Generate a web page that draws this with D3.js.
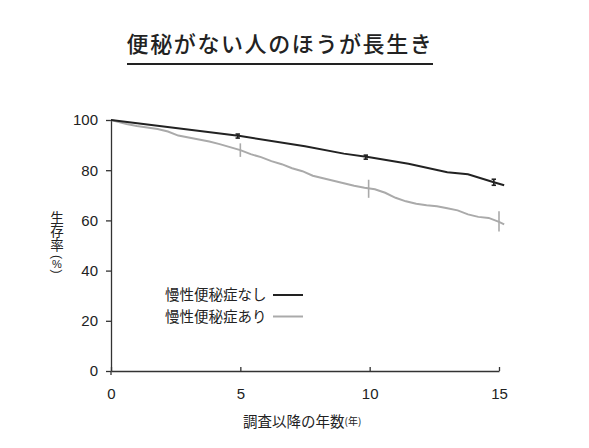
<!DOCTYPE html>
<html>
<head>
<meta charset="utf-8">
<script src="https://cdn.jsdelivr.net/npm/d3@7"></script>
<style>
  body { margin: 0; background: #fff; }
  svg { display: block; }
  .num { font-family: "Liberation Sans", Arial, sans-serif; font-size: 15px; fill: #222; }
  .jp { font-family: "Noto Sans CJK JP", sans-serif; fill: #222; }
</style>
</head>
<body>
<svg id="chart" width="589" height="448"></svg>
<script>
// 慢性便秘症なし (black)
const noneYears = [0, 2.5, 5, 7.5, 9, 10, 11.5, 13, 13.8, 14.8, 15.2];
const noneRate  = [100, 96.8, 93.6, 89.5, 86.6, 85.2, 82.6, 79.2, 78.4, 75.2, 74.0];

// 慢性便秘症あり (gray)
const withYears = [0, 0.3, 0.6, 1.0, 1.4, 1.8, 2.2, 2.6, 3.0, 3.4, 3.8, 4.2, 4.6, 5.0, 5.4, 5.8, 6.2, 6.6, 7.0, 7.4,
                   7.8, 8.2, 8.6, 9.0, 9.4, 9.8, 10.2, 10.6, 11.0, 11.4, 11.8, 12.2, 12.6, 13.0, 13.4, 13.8, 14.2, 14.6, 15.0, 15.2];
const withRate  = [100, 99.2, 98.4, 97.6, 97.0, 96.4, 95.4, 93.8, 93.0, 92.2, 91.4, 90.4, 89.2, 88.0, 86.4, 85.2, 83.6, 82.4, 80.8, 79.6,
                   77.8, 76.8, 75.8, 74.8, 73.8, 73.0, 72.4, 71.0, 69.0, 67.6, 66.6, 66.0, 65.6, 64.8, 64.0, 62.4, 61.4, 61.0, 59.4, 58.4];

// error bars: [year, value, half-width]
const noneErr = [[4.9, 93.6, 0.8], [9.85, 85.2, 0.8], [14.8, 75.2, 1.2]];
const withErr = [[5.0, 88.0, 2.7], [9.96, 72.6, 3.6], [15.0, 59.6, 4.0]];

const yTicks = [0, 20, 40, 60, 80, 100];
const xTicks = [0, 5, 10, 15];

const svg = d3.select('#chart');
const x = d3.scaleLinear().domain([0, 15]).range([111, 499]);
const y = d3.scaleLinear().domain([0, 100]).range([371, 120]);

// title
svg.append('text')
    .attr('class', 'jp')
    .attr('x', 280).attr('y', 52)
    .attr('text-anchor', 'middle')
    .style('font-size', '22px')
    .style('font-weight', 500)
    .style('letter-spacing', '1.6px')
    .text('便秘がない人のほうが長生き');
svg.append('line')
    .attr('x1', 127).attr('x2', 433).attr('y1', 64).attr('y2', 64)
    .attr('stroke', '#222').attr('stroke-width', 2);

// axes
let yAxis = svg.append('g')
    .attr('transform', 'translate(' + x(0) + ',0)')
    .call(d3.axisLeft(y).tickValues(yTicks).tickSize(5).tickSizeOuter(0).tickPadding(8));
let xAxis = svg.append('g')
    .attr('transform', 'translate(0,' + y(0) + ')')
    .call(d3.axisBottom(x).tickValues(xTicks).tickSize(-4).tickSizeOuter(0).tickPadding(17));
[yAxis, xAxis].forEach(function (a) {
    a.selectAll('path, line').attr('stroke', '#333').attr('stroke-width', 1.3);
    a.selectAll('text').attr('class', 'num').attr('fill', null);
});
// y axis runs a bit below the x axis
svg.append('line')
    .attr('x1', x(0)).attr('x2', x(0)).attr('y1', y(0)).attr('y2', y(0) + 4)
    .attr('stroke', '#333').attr('stroke-width', 1.3);

// lines
const line = d3.line().x(d => x(d[0])).y(d => y(d[1]));

svg.append('path')
    .datum(withYears.map((t, i) => [t, withRate[i]]))
    .attr('d', line)
    .attr('fill', 'none').attr('stroke', '#aaa').attr('stroke-width', 2);
svg.append('path')
    .datum(noneYears.map((t, i) => [t, noneRate[i]]))
    .attr('d', line)
    .attr('fill', 'none').attr('stroke', '#222').attr('stroke-width', 2);

// error bars
function errBars(data, color, cap) {
    let g = svg.append('g').attr('stroke', color).attr('stroke-width', 1.6);
    data.forEach(function (d) {
        g.append('line')
            .attr('x1', x(d[0])).attr('x2', x(d[0]))
            .attr('y1', y(d[1] + d[2])).attr('y2', y(d[1] - d[2]));
        if (cap) {
            [d[1] + d[2], d[1] - d[2]].forEach(function (v) {
                g.append('line')
                    .attr('x1', x(d[0]) - cap).attr('x2', x(d[0]) + cap)
                    .attr('y1', y(v)).attr('y2', y(v));
            });
        }
    });
}
errBars(withErr, '#aaa', 0);
errBars(noneErr, '#222', 2.2);

// legend
const legend = [['慢性便秘症なし', '#222'], ['慢性便秘症あり', '#aaa']];
legend.forEach(function (l, i) {
    let ly = 295 + i * 21.5;
    svg.append('text')
        .attr('class', 'jp')
        .attr('x', 165).attr('y', ly + 5)
        .style('font-size', '14.5px')
        .text(l[0]);
    svg.append('line')
        .attr('x1', 273).attr('x2', 303).attr('y1', ly).attr('y2', ly)
        .attr('stroke', l[1]).attr('stroke-width', 2);
});

// y axis title: vertical text, then (%) with the parentheses turned sideways
svg.append('text')
    .attr('class', 'jp')
    .attr('x', 57).attr('y', 211)
    .style('font-size', '13.5px')
    .style('writing-mode', 'vertical-rl')
    .text('生存率');
const unitMarks = [['(', 257, 12, 90], ['%', 264, 11, 0], [')', 271.5, 12, 90]];
unitMarks.forEach(function (c) {
    svg.append('text')
        .attr('class', 'num')
        .attr('x', 57).attr('y', c[1])
        .attr('text-anchor', 'middle')
        .attr('dominant-baseline', 'central')
        .attr('transform', c[3] ? 'rotate(' + c[3] + ',57,' + c[1] + ')' : null)
        .style('font-size', c[2] + 'px')
        .text(c[0]);
});

let xt = svg.append('text')
    .attr('class', 'jp')
    .attr('x', 243).attr('y', 427)
    .style('font-size', '14.5px');
xt.append('tspan').text('調査以降の年数');
xt.append('tspan').attr('dy', -2).style('font-size', '10px').text('(年)');
</script>
</body>
</html>
